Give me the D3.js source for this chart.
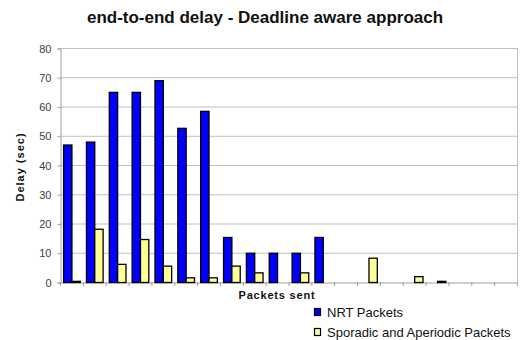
<!DOCTYPE html>
<html>
<head>
<meta charset="utf-8">
<script src="https://cdn.jsdelivr.net/npm/d3@7"></script>
<style>
  html, body { margin: 0; padding: 0; background: #fff; }
  svg { display: block; font-family: "Liberation Sans", Arial, sans-serif; }
</style>
</head>
<body>
<svg id="chart" width="524" height="340"></svg>
<script>
// Packet index along the x axis (no tick labels are printed)
const packets = d3.range(1, 21).map(String);

// End-to-end delay per packet, in seconds
const nrtDelay = [47, 48, 65, 65, 69, 52.7, 58.5, 15.4, 10, 10, 10, 15.4, 0, 0, 0, 0, 0, 0, 0, 0];
const sporadicDelay = [0.4, 18.2, 6.2, 14.7, 5.6, 1.6, 1.6, 5.6, 3.3, 0, 3.3, 0, 0, 8.3, 0, 2, 0.4, 0, 0, 0];

const seriesNames = ["NRT Packets", "Sporadic and Aperiodic Packets"];
const seriesColors = ["#0000ff", "#ffff99"];
const yTicks = [0, 10, 20, 30, 40, 50, 60, 70, 80];

const svg = d3.select("#chart");
const plot = { left: 60, right: 517, top: 48, bottom: 282 };

const x0 = d3.scaleBand().domain(packets).range([plot.left, plot.right]).paddingInner(0).paddingOuter(0);
const x1 = d3.scaleBand().domain(seriesNames).range([0, x0.bandwidth()]).paddingInner(0).paddingOuter(0.37);
const y = d3.scaleLinear().domain([0, 80]).range([plot.bottom, plot.top]);
const color = d3.scaleOrdinal().domain(seriesNames).range(seriesColors);

// Horizontal gridlines
svg.append("g")
  .selectAll("line")
  .data(yTicks.filter(t => t > 0))
  .join("line")
  .attr("x1", plot.left).attr("x2", plot.right)
  .attr("y1", d => y(d) + 0.5).attr("y2", d => y(d) + 0.5)
  .attr("stroke", "#c0c0c0").attr("stroke-width", 1);

// Right border of the plot area
svg.append("line")
  .attr("x1", plot.right + 0.5).attr("x2", plot.right + 0.5)
  .attr("y1", plot.top).attr("y2", plot.bottom)
  .attr("stroke", "#c0c0c0");

// Y axis
const yAxis = svg.append("g")
  .attr("transform", `translate(${plot.left + 0.5},0.5)`)
  .call(d3.axisLeft(y).tickValues(yTicks).tickSize(3).tickPadding(6));
yAxis.select(".domain").attr("stroke", "#a0a0a0");
yAxis.selectAll(".tick line").attr("stroke", "#a0a0a0");
yAxis.selectAll(".tick text")
  .attr("font-family", "Liberation Sans, Arial, sans-serif")
  .attr("font-size", 11).attr("fill", "#404040");

// X axis with ticks between categories
const xAxis = svg.append("g")
  .attr("transform", `translate(0.5,${plot.bottom + 0.5})`)
  .call(d3.axisBottom(x0).tickSize(0).tickFormat(""));
xAxis.select(".domain").attr("stroke", "#a0a0a0");
svg.append("g")
  .selectAll("line")
  .data(packets.concat(["end"]))
  .join("line")
  .attr("x1", (d, i) => (i < packets.length ? x0(d) : plot.right) + 0.5)
  .attr("x2", (d, i) => (i < packets.length ? x0(d) : plot.right) + 0.5)
  .attr("y1", plot.bottom).attr("y2", plot.bottom + 4)
  .attr("stroke", "#a0a0a0");

// Bars
const rows = packets.map((p, i) => ({
  packet: p,
  values: [
    { series: seriesNames[0], value: nrtDelay[i] },
    { series: seriesNames[1], value: sporadicDelay[i] }
  ]
}));

svg.append("g")
  .selectAll("g")
  .data(rows)
  .join("g")
  .attr("transform", d => `translate(${x0(d.packet)},0)`)
  .selectAll("rect")
  .data(d => d.values.filter(v => v.value > 0))
  .join("rect")
  .attr("x", d => x1(d.series) + 0.5)
  .attr("y", d => y(d.value) + 0.5)
  .attr("width", x1.bandwidth())
  .attr("height", d => y(0) - y(d.value))
  .attr("fill", d => color(d.series))
  .attr("stroke", "#000")
  .attr("stroke-width", 1.3);

// Title
svg.append("text")
  .attr("x", 265).attr("y", 23)
  .attr("text-anchor", "middle")
  .attr("font-size", 17).attr("font-weight", "bold").attr("fill", "#111")
  .text("end-to-end delay - Deadline aware approach");

// Axis titles
svg.append("text")
  .attr("transform", "translate(24,167) rotate(-90)")
  .attr("text-anchor", "middle")
  .attr("font-size", 11).attr("font-weight", "bold").attr("letter-spacing", 1).attr("fill", "#111")
  .text("Delay  (sec)");

svg.append("text")
  .attr("x", 277).attr("y", 299)
  .attr("text-anchor", "middle")
  .attr("font-size", 11).attr("font-weight", "bold").attr("letter-spacing", 0.8).attr("fill", "#111")
  .text("Packets sent");

// Legend
const legend = svg.append("g")
  .selectAll("g")
  .data(seriesNames)
  .join("g")
  .attr("transform", (d, i) => `translate(314,${308 + i * 20})`);
legend.append("rect")
  .attr("x", 0.5).attr("y", 0.5)
  .attr("width", 6).attr("height", 7)
  .attr("fill", d => color(d))
  .attr("stroke", "#000").attr("stroke-width", 1.2);
legend.append("text")
  .attr("x", 13).attr("y", 8.5)
  .attr("font-size", 13).attr("fill", "#111")
  .text(d => d);
</script>
</body>
</html>
